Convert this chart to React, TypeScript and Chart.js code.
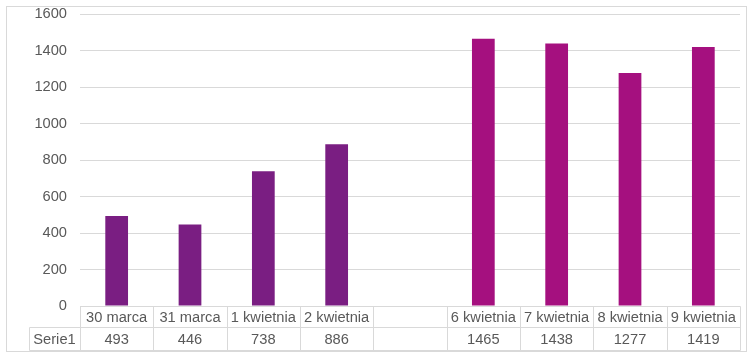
import React, { useEffect, useRef } from "react";
import { Chart, registerables } from "chart.js";

Chart.register(...registerables);

const categories = ["30 marca", "31 marca", "1 kwietnia", "2 kwietnia", "", "6 kwietnia", "7 kwietnia", "8 kwietnia", "9 kwietnia"];
const values: (number | null)[] = [493, 446, 738, 886, null, 1465, 1438, 1277, 1419];
const barColors = ["#7A1E82", "#7A1E82", "#7A1E82", "#7A1E82", "#7A1E82", "#A5107F", "#A5107F", "#A5107F", "#A5107F"];
const seriesName = "Serie1";
const yTicks = [0, 200, 400, 600, 800, 1000, 1200, 1400, 1600];

const FONT = '"Liberation Sans", Arial, sans-serif';
const FSIZE = 14.67;
const GRID = "#D9D9D9";
const TEXT = "#595959";

const tablePlugin = {
  id: "dataTable",
  afterDraw(chart: any) {
    const ctx = chart.ctx as CanvasRenderingContext2D;
    const area = chart.chartArea;
    const xs = chart.scales.x;
    const n = categories.length;
    const w = (area.right - area.left) / n;
    const top = area.bottom;
    const mid = top + 21;
    const bot = top + 44;
    const labelLeft = 29;
    ctx.save();
    ctx.strokeStyle = GRID;
    ctx.lineWidth = 1;
    const line = (x1: number, y1: number, x2: number, y2: number) => {
      ctx.beginPath();
      ctx.moveTo(Math.round(x1) + 0.5, Math.round(y1) + 0.5);
      ctx.lineTo(Math.round(x2) + 0.5, Math.round(y2) + 0.5);
      ctx.stroke();
    };
    line(area.left, top, area.right, top);
    line(labelLeft, mid, area.right, mid);
    line(labelLeft, bot, area.right, bot);
    for (let i = 0; i <= n; i++) {
      const x = area.left + i * w;
      line(x, top, x, bot);
    }
    line(labelLeft, mid, labelLeft, bot);
    // outer chart border
    ctx.strokeRect(6.5, 6.5, 740, bot - 6 + 1);

    ctx.fillStyle = TEXT;
    ctx.font = `${FSIZE}px ${FONT}`;
    ctx.textAlign = "center";
    ctx.textBaseline = "middle";
    for (let i = 0; i < n; i++) {
      const cx = xs.getPixelForValue(i);
      if (categories[i]) ctx.fillText(categories[i], cx, (top + mid) / 2 + 1);
      const v = values[i];
      if (v !== null) ctx.fillText(String(v), cx, (mid + bot) / 2 + 1);
    }
    ctx.fillText(seriesName, (labelLeft + area.left) / 2, (mid + bot) / 2 + 1);
    ctx.restore();
  },
};

export default function App() {
  const ref = useRef<HTMLCanvasElement | null>(null);
  useEffect(() => {
    document.body.style.margin = "0";
    const canvas = ref.current!;
    const chart = new Chart(canvas, {
      type: "bar",
      data: {
        labels: categories,
        datasets: [
          {
            label: seriesName,
            data: values,
            backgroundColor: barColors,
            categoryPercentage: 1,
            barPercentage: 0.31,
          },
        ],
      },
      options: {
        responsive: false,
        animation: false,
        layout: { padding: { left: 0, right: 12, top: 14, bottom: 51 } },
        plugins: { legend: { display: false }, tooltip: { enabled: false } },
        scales: {
          x: { display: false },
          y: {
            min: 0,
            max: 1600,
            afterBuildTicks: (s: any) => {
              s.ticks = yTicks.map((v) => ({ value: v }));
            },
            afterFit: (s: any) => {
              s.width = 80;
              s.paddingTop = 0;
              s.paddingBottom = 0;
            },
            border: { display: false },
            grid: { color: GRID, drawTicks: false, lineWidth: 1 },
            ticks: {
              padding: 13,
              color: TEXT,
              font: { family: FONT, size: FSIZE },
              callback: (v: any) => String(v),
            },
          },
        },
      },
      plugins: [tablePlugin],
    });
    return () => chart.destroy();
  }, []);
  return <canvas ref={ref} width={752} height={357} style={{ display: "block", width: 752, height: 357 }} />;
}
